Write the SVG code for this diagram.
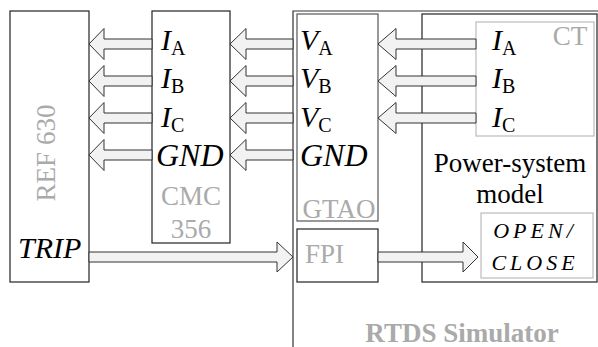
<svg xmlns="http://www.w3.org/2000/svg" width="598" height="347" viewBox="0 0 598 347" font-family="'Liberation Serif', 'Times New Roman', serif">
<style>
text{font-family:'Liberation Serif','Times New Roman',serif}
.box{fill:#fff;stroke:#222;stroke-width:1.2}
.gbox{fill:#fff;stroke:#555;stroke-width:1.2}
.lbox{fill:none;stroke:#bbb;stroke-width:1.2}
.arr{fill:#f2f2f2;stroke:#333;stroke-width:1}
.sym{font-size:30px;font-style:italic;fill:#000}
.gnd{font-size:32px;font-style:italic;fill:#000}
.sub{font-size:20px;font-style:normal}
.gray{font-size:27px;fill:#aaa}
.blk{font-size:27px;fill:#000}
.oc{font-size:22px;font-style:italic;letter-spacing:4px;fill:#000}
</style>
<rect width="598" height="347" fill="#fff"/>
<g id="rtds">
<path d="M598,11 H293 V347" fill="none" stroke="#333" stroke-width="1.2"/>
<text x="462" y="342" text-anchor="middle" font-size="27" font-weight="bold" fill="#aaa">RTDS Simulator</text>
</g>
<g id="ref630">
<rect class="box" x="10" y="11" width="79" height="271"/>
<text class="gray" transform="translate(55,153) rotate(-90)" text-anchor="middle">REF 630</text>
<text class="sym" x="18" y="258">TRIP</text>
</g>
<g id="cmc356">
<rect class="box" x="152" y="11" width="78" height="232"/>
<text class="sym" x="161" y="50">I<tspan class="sub" dy="5">A</tspan></text>
<text class="sym" x="161" y="88">I<tspan class="sub" dy="5">B</tspan></text>
<text class="sym" x="161" y="127">I<tspan class="sub" dy="5">C</tspan></text>
<text class="gnd" x="156" y="166">GND</text>
<text class="gray" x="191" y="205" text-anchor="middle">CMC</text>
<text class="gray" x="191" y="238" text-anchor="middle">356</text>
</g>
<g id="gtao">
<rect class="gbox" x="297" y="14" width="81" height="207"/>
<text class="sym" x="300" y="50">V<tspan class="sub" dy="5">A</tspan></text>
<text class="sym" x="300" y="88">V<tspan class="sub" dy="5">B</tspan></text>
<text class="sym" x="300" y="127">V<tspan class="sub" dy="5">C</tspan></text>
<text class="gnd" x="300" y="166">GND</text>
<text class="gray" x="339" y="218" text-anchor="middle">GTAO</text>
</g>
<g id="fpi">
<rect class="box" x="297" y="229" width="81" height="53"/>
<text class="gray" x="305" y="263">FPI</text>
</g>
<g id="power-system-model">
<rect class="box" x="422" y="14" width="175" height="268"/>
<text class="blk" x="510" y="172" text-anchor="middle">Power-system</text>
<text class="blk" x="510" y="203" text-anchor="middle">model</text>
</g>
<g id="ct">
<rect class="lbox" x="476" y="22" width="118" height="114"/>
<text class="gray" x="570" y="45" text-anchor="middle">CT</text>
<text class="sym" x="492" y="50">I<tspan class="sub" dy="5">A</tspan></text>
<text class="sym" x="492" y="88">I<tspan class="sub" dy="5">B</tspan></text>
<text class="sym" x="492" y="127">I<tspan class="sub" dy="5">C</tspan></text>
</g>
<g id="open-close">
<rect class="lbox" x="481" y="213" width="112" height="65"/>
<text class="oc" x="535" y="238" text-anchor="middle">OPEN/</text>
<text class="oc" x="535" y="270" text-anchor="middle">CLOSE</text>
</g>
<g id="connectors">
<path class="arr" d="M89,44 L104,28.5 L104,39 L152,39 L152,49 L104,49 L104,59.5 Z"/>
<path class="arr" d="M89,81 L104,65.5 L104,76 L152,76 L152,86 L104,86 L104,96.5 Z"/>
<path class="arr" d="M89,118 L104,102.5 L104,113 L152,113 L152,123 L104,123 L104,133.5 Z"/>
<path class="arr" d="M89,155 L104,139.5 L104,150 L152,150 L152,160 L104,160 L104,170.5 Z"/>
<path class="arr" d="M230,44 L246,28.5 L246,39 L293,39 L293,49 L246,49 L246,59.5 Z"/>
<path class="arr" d="M230,81 L246,65.5 L246,76 L293,76 L293,86 L246,86 L246,96.5 Z"/>
<path class="arr" d="M230,118 L246,102.5 L246,113 L293,113 L293,123 L246,123 L246,133.5 Z"/>
<path class="arr" d="M230,155 L246,139.5 L246,150 L293,150 L293,160 L246,160 L246,170.5 Z"/>
<path class="arr" d="M378,44 L396,28.5 L396,39 L476,39 L476,49 L396,49 L396,59.5 Z"/>
<path class="arr" d="M378,81 L396,65.5 L396,76 L476,76 L476,86 L396,86 L396,96.5 Z"/>
<path class="arr" d="M378,118 L396,102.5 L396,113 L476,113 L476,123 L396,123 L396,133.5 Z"/>
<path class="arr" d="M293,257 L277,242 L277,252 L89,252 L89,262 L277,262 L277,272 Z"/>
<path class="arr" d="M478,257 L463,242 L463,252 L378,252 L378,262 L463,262 L463,272 Z"/>
</g>
</svg>
